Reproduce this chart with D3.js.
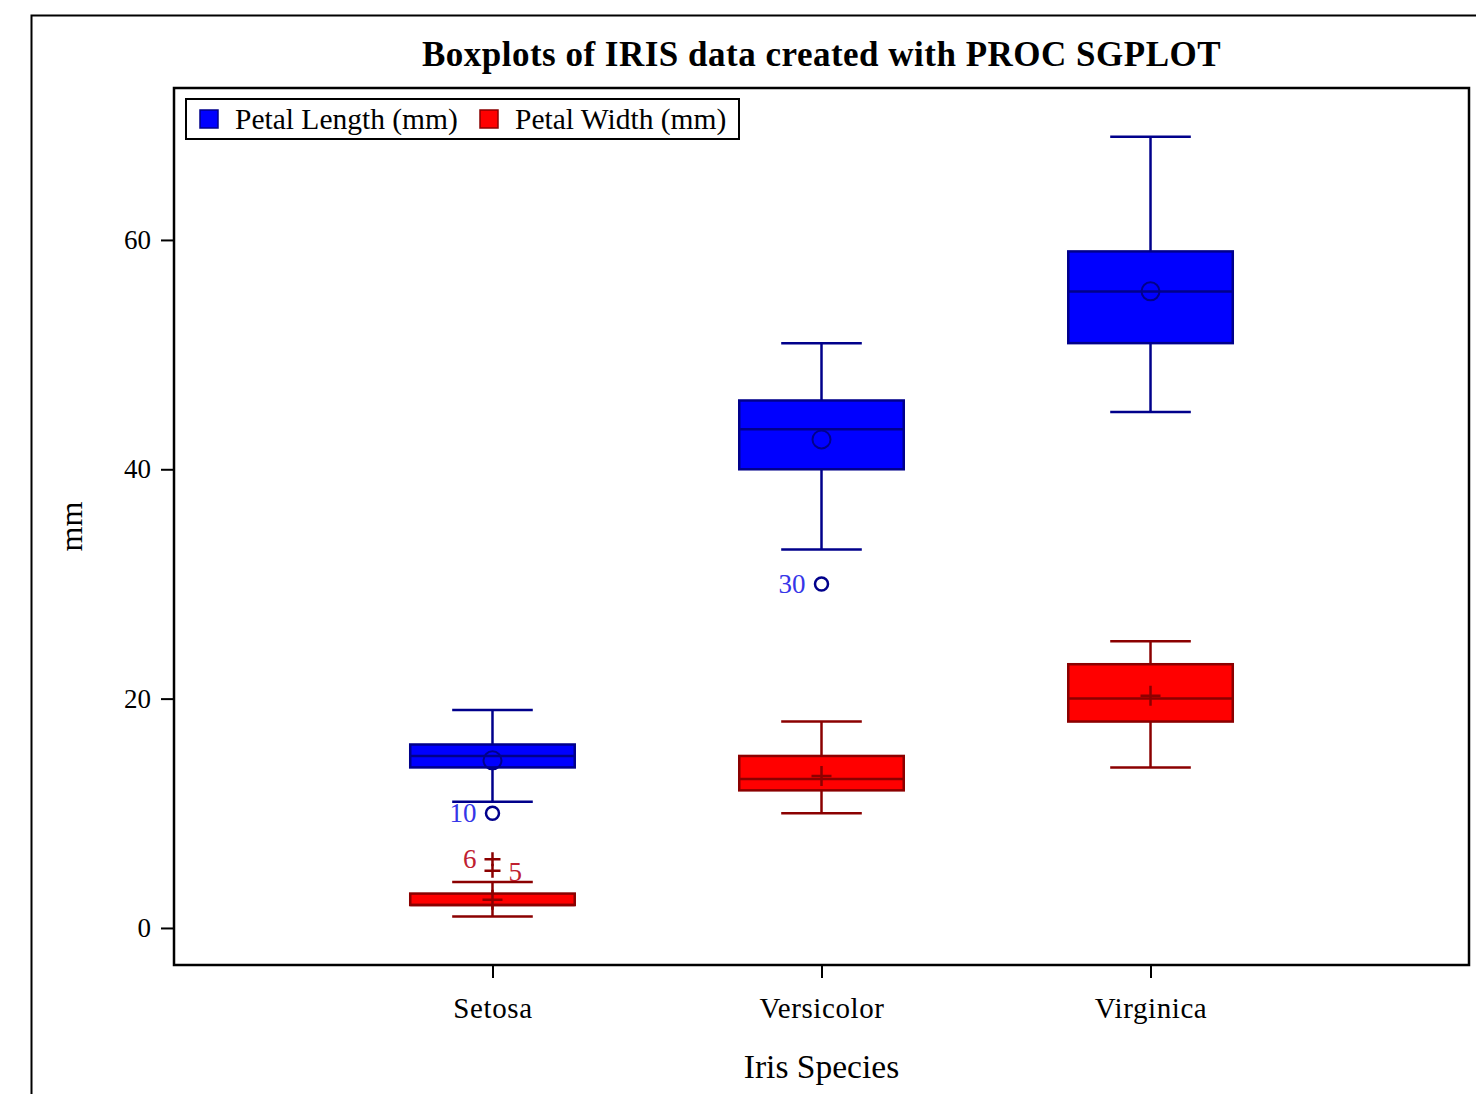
<!DOCTYPE html>
<html>
<head>
<meta charset="utf-8">
<script src="https://cdn.jsdelivr.net/npm/d3@7"></script>
<style>
  body { margin: 0; background: #fff; }
  svg text { font-family: "Liberation Serif", "Times New Roman", serif; }
</style>
</head>
<body>
<div id="chart"></div>
<script>
// categories and series
const species = ["Setosa", "Versicolor", "Virginica"];
const yTicks = [0, 20, 40, 60];

// petal length (mm): low whisker, q1, median, q3, high whisker, mean
const lengthLow = [11, 33, 45];
const lengthQ1 = [14, 40, 51];
const lengthMedian = [15, 43.5, 55.5];
const lengthQ3 = [16, 46, 59];
const lengthHigh = [19, 51, 69];
const lengthMean = [14.62, 42.6, 55.52];
const lengthOutliers = [
  {species: "Setosa", value: 10, label: "10"},
  {species: "Versicolor", value: 30, label: "30"}
];

// petal width (mm)
const widthLow = [1, 10, 14];
const widthQ1 = [2, 12, 18];
const widthMedian = [2, 13, 20];
const widthQ3 = [3, 15, 23];
const widthHigh = [4, 18, 25];
const widthMean = [2.46, 13.26, 20.26];
const widthOutliers = [
  {species: "Setosa", value: 6, label: "6"},
  {species: "Setosa", value: 5, label: "5"}
];

const W = 1476, H = 1094;
const plot = {left: 174, top: 88, right: 1469, bottom: 965};

const svg = d3.select("#chart").append("svg")
    .attr("width", W)
    .attr("height", H);

// outer frame, runs off the page on right and bottom
svg.append("rect")
    .attr("x", 31.5).attr("y", 15.5)
    .attr("width", 1500).attr("height", 1200)
    .attr("fill", "none").attr("stroke", "#000").attr("stroke-width", 2);

const x = d3.scalePoint()
    .domain(species)
    .range([plot.left, plot.right])
    .padding(0.968);

const y = d3.scaleLinear()
    .domain([-3.23, 73.25])
    .range([plot.bottom, plot.top]);

const step = x.step();
const boxW = step * 0.5;
const capW = step * 0.245;

function buildSeries(low, q1, med, q3, high, mean) {
    return species.map((s, i) => ({
        species: s, low: low[i], q1: q1[i], median: med[i], q3: q3[i], high: high[i], mean: mean[i]
    }));
}

const series = [
    {name: "Petal Length (mm)", fill: "#0000ff", stroke: "#00008b", labelColor: "#3636e8", meanShape: "circle",
     data: buildSeries(lengthLow, lengthQ1, lengthMedian, lengthQ3, lengthHigh, lengthMean), outliers: lengthOutliers},
    {name: "Petal Width (mm)", fill: "#ff0000", stroke: "#8b0000", labelColor: "#c02030", meanShape: "plus",
     data: buildSeries(widthLow, widthQ1, widthMedian, widthQ3, widthHigh, widthMean), outliers: widthOutliers}
];

// axes
const yAxis = svg.append("g")
    .attr("transform", `translate(${plot.left},0)`)
    .call(d3.axisLeft(y).tickValues(yTicks).tickSize(13).tickPadding(10).tickFormat(d3.format("d")));
yAxis.select(".domain").remove();
yAxis.selectAll("line").attr("stroke", "#000").attr("stroke-width", 2);
yAxis.selectAll("text").style("font-size", "27px").attr("fill", "#000")
    .style("font-family", "'Liberation Serif', 'Times New Roman', serif");

const xAxis = svg.append("g")
    .attr("transform", `translate(0,${plot.bottom})`)
    .call(d3.axisBottom(x).tickSize(13).tickPadding(19));
xAxis.select(".domain").remove();
xAxis.selectAll("line").attr("stroke", "#000").attr("stroke-width", 2);
xAxis.selectAll("text").style("font-size", "29px").attr("fill", "#000")
    .style("letter-spacing", "0.6px")
    .style("font-family", "'Liberation Serif', 'Times New Roman', serif");

// boxes
series.forEach(sr => {
    const g = svg.append("g").attr("class", "series");
    const grp = g.selectAll("g.box").data(sr.data).join("g").attr("class", "box");

    // whiskers
    grp.append("line")
        .attr("x1", d => x(d.species)).attr("x2", d => x(d.species))
        .attr("y1", d => y(d.q3)).attr("y2", d => y(d.high))
        .attr("stroke", sr.stroke).attr("stroke-width", 2.5);
    grp.append("line")
        .attr("x1", d => x(d.species)).attr("x2", d => x(d.species))
        .attr("y1", d => y(d.q1)).attr("y2", d => y(d.low))
        .attr("stroke", sr.stroke).attr("stroke-width", 2.5);
    grp.append("line")
        .attr("x1", d => x(d.species) - capW / 2).attr("x2", d => x(d.species) + capW / 2)
        .attr("y1", d => y(d.high)).attr("y2", d => y(d.high))
        .attr("stroke", sr.stroke).attr("stroke-width", 2.5);
    grp.append("line")
        .attr("x1", d => x(d.species) - capW / 2).attr("x2", d => x(d.species) + capW / 2)
        .attr("y1", d => y(d.low)).attr("y2", d => y(d.low))
        .attr("stroke", sr.stroke).attr("stroke-width", 2.5);

    grp.append("rect")
        .attr("x", d => x(d.species) - boxW / 2)
        .attr("y", d => y(d.q3))
        .attr("width", boxW)
        .attr("height", d => y(d.q1) - y(d.q3))
        .attr("fill", sr.fill).attr("stroke", sr.stroke).attr("stroke-width", 2.5);

    grp.append("line")
        .attr("x1", d => x(d.species) - boxW / 2).attr("x2", d => x(d.species) + boxW / 2)
        .attr("y1", d => y(d.median)).attr("y2", d => y(d.median))
        .attr("stroke", sr.stroke).attr("stroke-width", 2.5);

    if (sr.meanShape == "circle") {
        grp.append("circle")
            .attr("cx", d => x(d.species)).attr("cy", d => y(d.mean)).attr("r", 9)
            .attr("fill", "none").attr("stroke", sr.stroke).attr("stroke-width", 2);
    } else {
        grp.append("path")
            .attr("d", d => `M${x(d.species) - 10},${y(d.mean)}h20M${x(d.species)},${y(d.mean) - 10}v20`)
            .attr("stroke", sr.stroke).attr("stroke-width", 2.5).attr("fill", "none");
    }

    // outliers
    const og = g.selectAll("g.outlier").data(sr.outliers).join("g").attr("class", "outlier");
    if (sr.meanShape == "circle") {
        og.append("circle")
            .attr("cx", d => x(d.species)).attr("cy", d => y(d.value)).attr("r", 6.5)
            .attr("fill", "none").attr("stroke", sr.stroke).attr("stroke-width", 2.5);
    } else {
        og.append("path")
            .attr("d", d => `M${x(d.species) - 8},${y(d.value)}h16M${x(d.species)},${y(d.value) - 7}v14`)
            .attr("stroke", sr.stroke).attr("stroke-width", 2.5).attr("fill", "none");
    }
    // labels: SAS puts the lower one of the stacked pair on the right
    og.append("text")
        .attr("x", (d, i) => (sr.meanShape == "plus" && i == 1) ? x(d.species) + 16 : x(d.species) - 16)
        .attr("y", (d, i) => y(d.value) + ((sr.meanShape == "plus" && i == 1) ? 1 : 0))
        .attr("text-anchor", (d, i) => (sr.meanShape == "plus" && i == 1) ? "start" : "end")
        .attr("dominant-baseline", "central")
        .style("font-size", "27px")
        .attr("fill", sr.labelColor)
        .text(d => d.label);
});

// plot frame
svg.append("rect")
    .attr("x", plot.left).attr("y", plot.top)
    .attr("width", plot.right - plot.left).attr("height", plot.bottom - plot.top)
    .attr("fill", "none").attr("stroke", "#000").attr("stroke-width", 2.5);

// title
svg.append("text")
    .attr("x", (plot.left + plot.right) / 2).attr("y", 66)
    .attr("text-anchor", "middle")
    .style("font-size", "35px").style("font-weight", "bold")
    .style("letter-spacing", "0.5px")
    .text("Boxplots of IRIS data created with PROC SGPLOT");

// axis titles
svg.append("text")
    .attr("x", (plot.left + plot.right) / 2).attr("y", 1078)
    .attr("text-anchor", "middle")
    .style("font-size", "33.5px")
    .text("Iris Species");

svg.append("text")
    .attr("transform", `translate(71,${(plot.top + plot.bottom) / 2}) rotate(-90)`)
    .attr("text-anchor", "middle")
    .attr("dominant-baseline", "central")
    .style("font-size", "32px")
    .text("mm");

// legend
const legend = svg.append("g").attr("transform", "translate(186,99)");
legend.append("rect")
    .attr("width", 553).attr("height", 40)
    .attr("fill", "#fff").attr("stroke", "#000").attr("stroke-width", 2);
const legendX = [14, 294];
series.forEach((sr, i) => {
    legend.append("rect")
        .attr("x", legendX[i]).attr("y", 11)
        .attr("width", 18).attr("height", 18)
        .attr("fill", sr.fill).attr("stroke", sr.stroke).attr("stroke-width", 1.5);
    legend.append("text")
        .attr("x", legendX[i] + 35).attr("y", 30)
        .style("font-size", "29.5px")
        .text(sr.name);
});
</script>
</body>
</html>
